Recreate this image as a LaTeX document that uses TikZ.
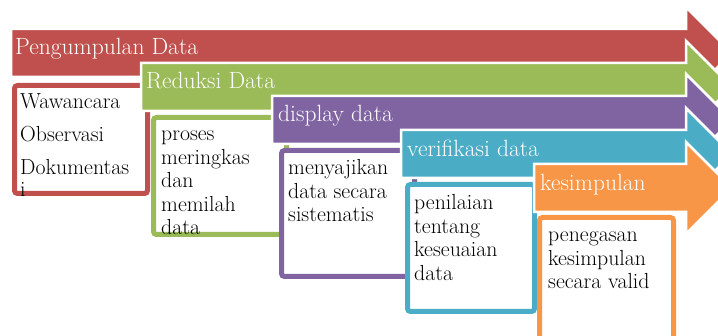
\documentclass[tikz,border=0pt]{standalone}
\usepackage{fontspec}
\definecolor{cred}{HTML}{C0504D}
\definecolor{cgreen}{HTML}{9BBB59}
\definecolor{cpurple}{HTML}{8064A2}
\definecolor{cblue}{HTML}{4BACC6}
\definecolor{corange}{HTML}{F79646}
\tikzset{
  stagebar/.style={fill=#1, draw=white, line width=2.5pt, line join=miter},
  stagebox/.style={draw=#1, line width=5pt, fill=white, rounded corners=3pt},
  bartext/.style={text=white, font=\fontsize{23.5}{26}\selectfont, anchor=base west, inner sep=0pt},
  boxtext/.style={text=black, font=\fontsize{21.8}{23.5}\selectfont, anchor=base west, inner sep=0pt}
}
\newcommand\stagearrow[3]{%
  \path[stagebar=#3] (#1,#2) -- (686,#2) -- (686,#2-22) -- (732,#2+24) -- (686,#2+70) -- (686,#2+48) -- (#1,#2+48) -- cycle;}
\newcommand\lines[1]{\begin{tabular}[t]{@{}l@{}}#1\end{tabular}}
\begin{document}
\begin{tikzpicture}[x=1pt,y=-1pt]
\useasboundingbox (0,0) rectangle (718,336);
\clip (0,0) rectangle (718,336);
% stage 1
\stagearrow{11}{29}{cred}
\node[bartext] (t1) at (15,55) {Pengumpulan Data};
\path[stagebox=cred] (14.5,85.5) rectangle (147.5,193.5);
\node[boxtext] (b1) at (20,109) {\lines{Wawancara\\[9.5pt]Observasi\\[9.5pt]Dokumentas\\[-1.5pt]i}};
% stage 2
\stagearrow{141}{63}{cgreen}
\node[bartext] (t2) at (146,89) {Reduksi Data};
\path[stagebox=cgreen] (153.5,117.5) rectangle (286.5,234.5);
\node[boxtext] (b2) at (161,141) {\lines{proses\\meringkas\\dan\\memilah\\data}};
% stage 3
\stagearrow{272}{96}{cpurple}
\node[bartext] (t3) at (278,122) {display data};
\path[stagebox=cpurple] (281.5,150.5) rectangle (414.5,276.5);
\node[boxtext] (b3) at (288,175) {\lines{menyajikan\\data secara\\sistematis}};
% stage 4
\stagearrow{401}{130}{cblue}
\node[bartext] (t4) at (407,157) {verifikasi data};
\path[stagebox=cblue] (407.5,184.5) rectangle (534.5,311.5);
\node[boxtext] (b4) at (414,210) {\lines{penilaian\\tentang\\keseuaian\\data}};
% stage 5
\stagearrow{534}{164}{corange}
\node[bartext] (t5) at (540,191) {kesimpulan};
\path[stagebox=corange] (539.5,217.5) rectangle (673.5,352);
\node[boxtext] (b5) at (548,242) {\lines{penegasan\\kesimpulan\\secara valid}};
\end{tikzpicture}
\end{document}
